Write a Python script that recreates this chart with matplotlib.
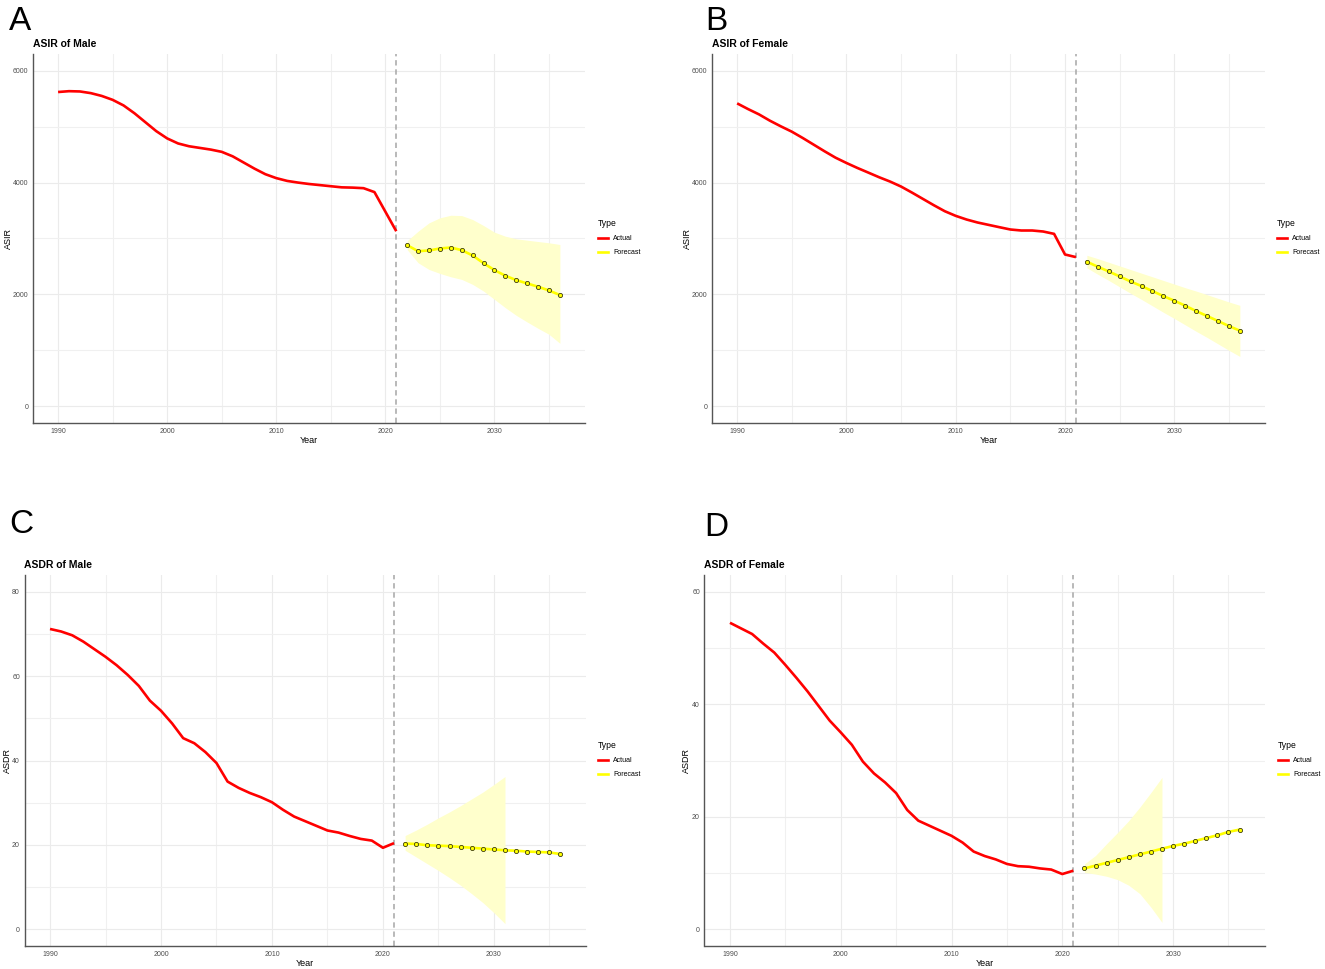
import matplotlib
matplotlib.use('Agg')
import matplotlib.pyplot as plt
from matplotlib.lines import Line2D

plt.rcParams['font.family'] = ['Liberation Sans', 'DejaVu Sans']

# ---------------- data ----------------
actual_years = list(range(1990, 2022))
forecast_years = list(range(2022, 2037))

asir_male_actual = [5620, 5635, 5630, 5600, 5550, 5480, 5380, 5240, 5080, 4920,
                    4790, 4700, 4650, 4620, 4590, 4550, 4470, 4360, 4250, 4150,
                    4080, 4030, 4000, 3975, 3955, 3935, 3915, 3910, 3900, 3830,
                    3480, 3130]
asir_male_fc = [2880, 2773, 2786, 2821, 2839, 2792, 2696, 2559, 2434, 2334,
                2255, 2196, 2137, 2071, 1988]
asir_male_ribbon_years = list(range(2022, 2037))
asir_male_lo = [2800, 2566, 2446, 2375, 2315, 2268, 2179, 2059, 1911, 1762,
                1625, 1506, 1393, 1286, 1125]
asir_male_hi = [2960, 3130, 3280, 3370, 3416, 3410, 3339, 3232, 3113, 3041,
                2994, 2970, 2946, 2923, 2893]

asir_female_actual = [5417, 5315, 5220, 5107, 5006, 4911, 4798, 4679, 4560, 4446,
                      4351, 4262, 4179, 4095, 4018, 3929, 3821, 3708, 3595, 3488,
                      3405, 3339, 3286, 3244, 3202, 3161, 3143, 3143, 3125, 3083,
                      2714, 2667]
asir_female_fc = [2584, 2495, 2411, 2321, 2232, 2149, 2060, 1970, 1887, 1798,
                  1702, 1613, 1524, 1434, 1351]
asir_female_ribbon_years = list(range(2022, 2037))
asir_female_lo = [2475, 2360, 2250, 2135, 2020, 1910, 1795, 1680, 1570, 1455,
                  1340, 1230, 1115, 1000, 890]
asir_female_hi = [2700, 2640, 2575, 2510, 2445, 2380, 2315, 2250, 2185, 2120,
                  2060, 1995, 1930, 1865, 1805]

asdr_male_actual = [71.2, 70.6, 69.7, 68.2, 66.4, 64.6, 62.6, 60.3, 57.7, 54.2,
                    51.8, 48.8, 45.3, 44.1, 42.0, 39.4, 35.0, 33.5, 32.3, 31.3,
                    30.1, 28.3, 26.7, 25.6, 24.5, 23.4, 22.9, 22.1, 21.4, 21.0,
                    19.3, 20.4]
asdr_male_fc = [20.3, 20.2, 19.9, 19.8, 19.7, 19.5, 19.3, 19.1, 18.9, 18.7,
                18.6, 18.4, 18.3, 18.2, 17.8]
asdr_male_ribbon_years = list(range(2022, 2032))
asdr_male_lo = [18.7, 17.1, 15.5, 13.9, 12.2, 10.4, 8.4, 6.3, 3.9, 1.3]
asdr_male_hi = [22.2, 23.5, 24.9, 26.4, 27.8, 29.3, 30.9, 32.5, 34.3, 36.2]

asdr_female_actual = [54.5, 53.5, 52.5, 50.8, 49.2, 47.0, 44.7, 42.3, 39.7, 37.1,
                      35.0, 32.8, 29.8, 27.7, 26.1, 24.2, 21.2, 19.3, 18.4, 17.5,
                      16.6, 15.4, 13.8, 13.0, 12.4, 11.6, 11.2, 11.1, 10.8, 10.6,
                      9.8, 10.4]
asdr_female_fc = [10.8, 11.3, 11.8, 12.3, 12.8, 13.3, 13.8, 14.3, 14.8, 15.2,
                  15.7, 16.2, 16.7, 17.3, 17.7]
asdr_female_ribbon_years = list(range(2022, 2030))
asdr_female_lo = [10.1, 9.8, 9.4, 8.8, 7.8, 6.3, 3.9, 1.2]
asdr_female_hi = [11.6, 13.1, 15.2, 17.2, 19.3, 21.7, 24.3, 27.0]

x_major = [1990, 2000, 2010, 2020, 2030]
x_minor = [1995, 2005, 2015, 2025, 2035]
cutoff_year = 2021
legend_labels = ['Actual', 'Forecast']

# ---------------- figure ----------------
W, H = 1325, 969
fig = plt.figure(figsize=(W / 100, H / 100), dpi=100)


def fx(px):
    return px / W


def fy(py):
    return 1 - py / H


panels = [
    dict(letter='A', title='ASIR of Male', ylabel='ASIR',
         actual=asir_male_actual, fc=asir_male_fc,
         ryears=asir_male_ribbon_years, lo=asir_male_lo, hi=asir_male_hi,
         rect=(33, 54, 585, 423), ylim=(-300, 6300),
         ymaj=[0, 2000, 4000, 6000], ymin=[1000, 3000, 5000],
         letter_pos=(9, 30), legend_pos=(597.5, 219.5), ylab_right=13.0),
    dict(letter='B', title='ASIR of Female', ylabel='ASIR',
         actual=asir_female_actual, fc=asir_female_fc,
         ryears=asir_female_ribbon_years, lo=asir_female_lo, hi=asir_female_hi,
         rect=(712, 54, 1265, 423), ylim=(-300, 6300),
         ymaj=[0, 2000, 4000, 6000], ymin=[1000, 3000, 5000],
         letter_pos=(705, 30), legend_pos=(1276.5, 219.5), ylab_right=692.0),
    dict(letter='C', title='ASDR of Male', ylabel='ASDR',
         actual=asdr_male_actual, fc=asdr_male_fc,
         ryears=asdr_male_ribbon_years, lo=asdr_male_lo, hi=asdr_male_hi,
         rect=(24.5, 575, 586, 946), ylim=(-4, 84),
         ymaj=[0, 20, 40, 60, 80], ymin=[10, 30, 50, 70],
         letter_pos=(9, 533), legend_pos=(597.5, 741.5), ylab_right=11.5),
    dict(letter='D', title='ASDR of Female', ylabel='ASDR',
         actual=asdr_female_actual, fc=asdr_female_fc,
         ryears=asdr_female_ribbon_years, lo=asdr_female_lo, hi=asdr_female_hi,
         rect=(704.5, 575, 1265, 946), ylim=(-3, 63),
         ymaj=[0, 20, 40, 60], ymin=[10, 30, 50],
         letter_pos=(704, 536), legend_pos=(1277.5, 741.5), ylab_right=691.0),
]

tick_color = '#4D4D4D'
grid_color = '#EBEBEB'

for p in panels:
    l, t, r, b = p['rect']
    ax = fig.add_axes([fx(l), fy(b), fx(r - l), (b - t) / H])
    ax.set_xlim(1987.7, 2038.3)
    ax.set_ylim(*p['ylim'])

    # grid
    for v in x_minor:
        ax.axvline(v, color='#F0F0F0', lw=0.8, zorder=0)
    for v in x_major:
        ax.axvline(v, color=grid_color, lw=0.8, zorder=0)
    for v in p['ymin']:
        ax.axhline(v, color='#F0F0F0', lw=0.8, zorder=0)
    for v in p['ymaj']:
        ax.axhline(v, color=grid_color, lw=0.8, zorder=0)

    ax.fill_between(p['ryears'], p['lo'], p['hi'], color='#FFFFCC',
                    lw=0, zorder=1)
    ax.axvline(cutoff_year, color='#A6A6A6', lw=1.1, ls=(0, (3.5, 2.5)),
               zorder=2)
    ax.plot(actual_years, p['actual'], color='#FF0000', lw=1.9, zorder=3,
            solid_capstyle='butt')
    ax.plot(forecast_years, p['fc'], color='#FFFF00', lw=1.9, zorder=3)
    ax.plot(forecast_years, p['fc'], ls='none', marker='o', ms=3.0,
            mfc='#FFFF00', mec='#3A3A10', mew=0.6, zorder=4)

    ax.set_xticks(x_major)
    ax.set_xticklabels([str(v) for v in x_major])
    ax.set_yticks(p['ymaj'])
    ax.set_yticklabels([str(v) for v in p['ymaj']])
    ax.tick_params(axis='both', length=0, labelsize=5, colors=tick_color,
                   pad=3.3)

    for s in ['top', 'right']:
        ax.spines[s].set_visible(False)
    for s in ['left', 'bottom']:
        ax.spines[s].set_color('#555555')
        ax.spines[s].set_linewidth(1.0)

    ax.set_xlabel('Year', fontsize=6.5, labelpad=1.3, color='black')
    ax.set_ylabel(p['ylabel'], fontsize=6.5, color='black')
    ax.yaxis.set_label_coords((p['ylab_right'] - l) / (r - l), 0.5)
    ax.set_title(p['title'], loc='left', fontsize=7.5, fontweight='bold',
                 pad=5)

    fig.text(fx(p['letter_pos'][0]), fy(p['letter_pos'][1]), p['letter'],
             fontsize=24, ha='left', va='baseline')

    handles = [Line2D([], [], color='#FF0000', lw=1.9),
               Line2D([], [], color='#FFFF00', lw=1.9)]
    leg = ax.legend(handles, legend_labels, title='Type', loc='upper left',
                    bbox_to_anchor=(fx(p['legend_pos'][0]), fy(p['legend_pos'][1])),
                    bbox_transform=fig.transFigure, frameon=False,
                    fontsize=5, title_fontsize=6.2, borderpad=0,
                    borderaxespad=0, handlelength=1.5, handletextpad=0.8,
                    labelspacing=1.0, alignment='left')

fig.savefig('out.png', dpi=100)
